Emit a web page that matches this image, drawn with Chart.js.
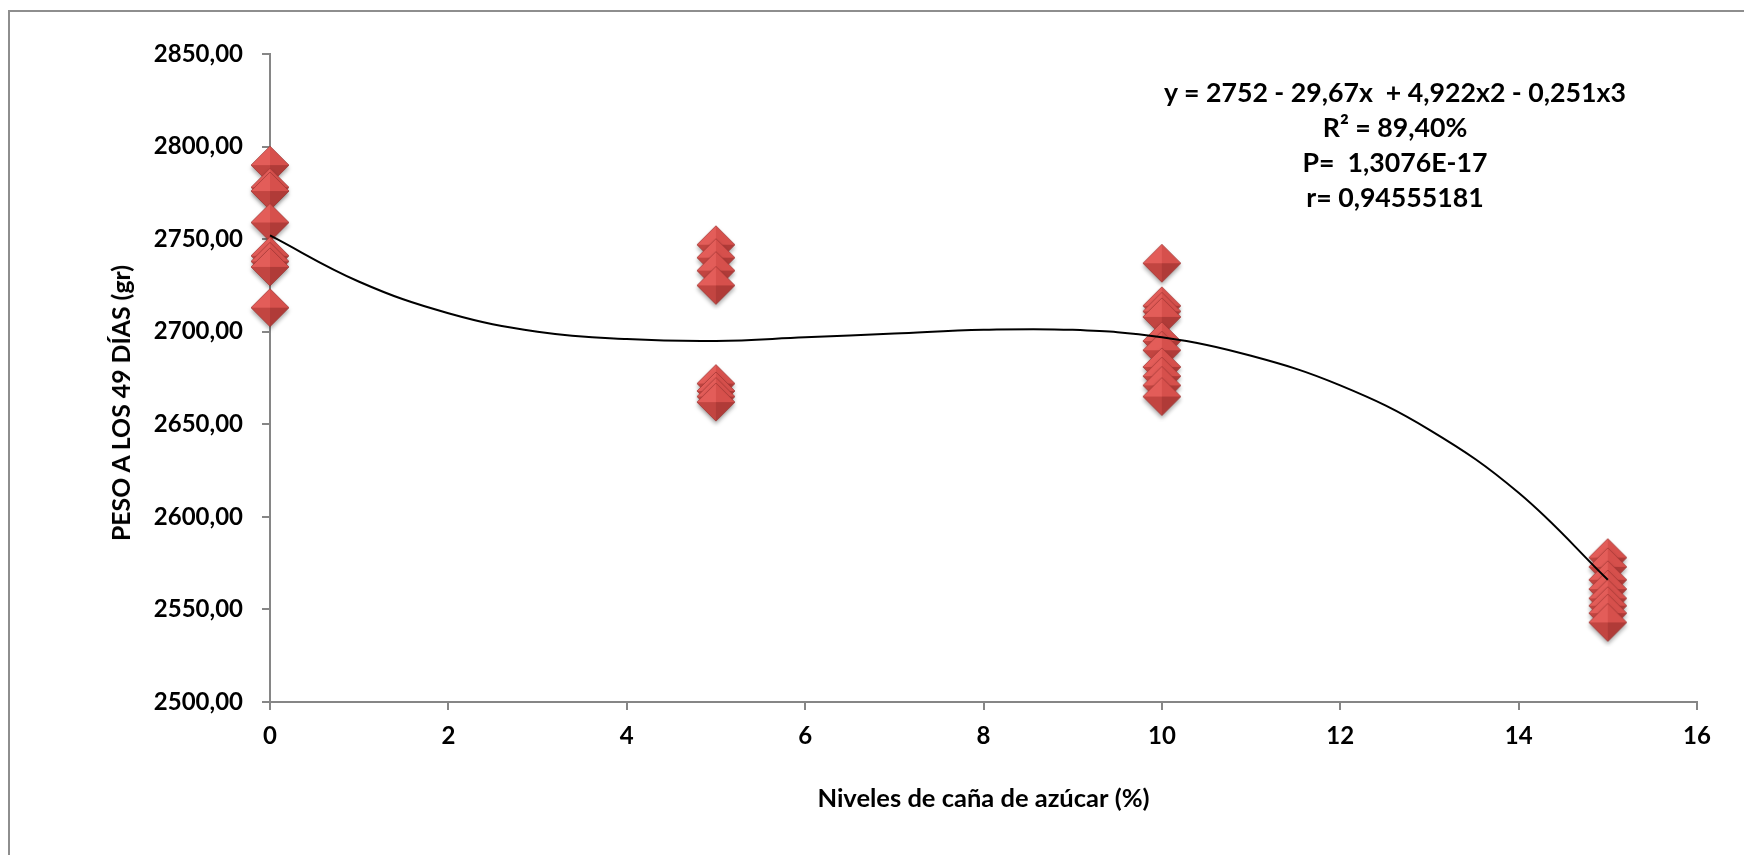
<!DOCTYPE html>
<html>
<head>
<meta charset="utf-8">
<title>Peso a los 49 días</title>
<script src="https://cdn.jsdelivr.net/npm/chart.js@4.4.1/dist/chart.umd.min.js"></script>
<style>
  body { margin: 0; background: #fff; }
  #wrap { position: relative; width: 1744px; height: 855px; overflow: hidden; }
  #frame { position: absolute; left: 8px; top: 10px; width: 1760px; height: 870px;
    border-left: 2px solid #8e8e8e; border-top: 2px solid #8e8e8e; }
  #chart { position: absolute; left: 0; top: 0; }
  .txt { position: absolute; font-family: Lato, "Open Sans", sans-serif; font-weight: bold; color: #000; white-space: pre; }
  #ytitle { left: 121px; top: 403px; font-size: 24.8px; line-height: 30px; transform: translate(-50%, -50%) rotate(-90deg); }
  #eq { left: 1095px; top: 75px; width: 600px; text-align: center; font-size: 26.7px; line-height: 35px; }
</style>
</head>
<body>
<div id="wrap">
  <div id="frame"></div>
  <canvas id="chart" width="1744" height="855"></canvas>
  <div id="ytitle" class="txt">PESO A LOS 49 DÍAS (gr)</div>
  <div id="eq" class="txt">y = 2752 - 29,67x  + 4,922x2 - 0,251x3
R² = 89,40%
P=  1,3076E-17
r= 0,94555181</div>
</div>
<script>
// niveles de caña (%) y pesos
var levels = [0, 5, 10, 15];
var peso0 = [2790, 2778, 2776, 2759, 2741, 2738, 2735, 2713];
var peso5 = [2747, 2740, 2733, 2725, 2672, 2668, 2665, 2662];
var peso10 = [2737, 2714, 2711, 2708, 2695, 2690, 2681, 2676, 2671, 2665];
var peso15 = [2578, 2573, 2566, 2561, 2556, 2552, 2548, 2543];

// curva de tendencia (polinomica)
var trendX = [0, 1, 2, 3, 4, 5, 6, 7, 8, 9, 10, 11, 12, 13, 14, 15];
var trendY = [2752, 2727, 2710, 2700, 2696, 2695, 2697, 2699, 2701, 2701, 2697, 2687, 2671, 2647, 2613, 2566];

var xTicks = [0, 2, 4, 6, 8, 10, 12, 14, 16];
var yTicks = [2500, 2550, 2600, 2650, 2700, 2750, 2800, 2850];

var xTitle = "Niveles de caña de azúcar (%)";

var groups = [peso0, peso5, peso10, peso15];
var points = [];
groups.forEach(function (g, i) {
	g.forEach(function (v) {
		points.push({x: levels[i], y: v});
	});
});

var trend = trendX.map(function (x, i) {
	return {x: x, y: trendY[i]};
});

// rombo rojo con relieve, como el marcador de Excel
function makeDiamond() {
	var c = document.createElement("canvas");
	c.width = 50;
	c.height = 50;
	var g = c.getContext("2d"),
		cx = 25, cy = 25, r = 19;
	g.save();
	g.shadowColor = "rgba(0,0,0,0.35)";
	g.shadowBlur = 4;
	g.shadowOffsetY = 3;
	g.beginPath();
	g.moveTo(cx, cy - r);
	g.lineTo(cx + r, cy);
	g.lineTo(cx, cy + r);
	g.lineTo(cx - r, cy);
	g.closePath();
	g.fillStyle = "#c0504d";
	g.fill();
	g.restore();
	var facets = [
		[cx - r, cy, cx, cy - r, "#e35d59"],
		[cx, cy - r, cx + r, cy, "#d6504c"],
		[cx + r, cy, cx, cy + r, "#b03b38"],
		[cx, cy + r, cx - r, cy, "#c24541"]
	];
	facets.forEach(function (f) {
		g.beginPath();
		g.moveTo(cx, cy);
		g.lineTo(f[0], f[1]);
		g.lineTo(f[2], f[3]);
		g.closePath();
		g.fillStyle = f[4];
		g.fill();
	});
	g.beginPath();
	g.moveTo(cx, cy - r);
	g.lineTo(cx + r, cy);
	g.lineTo(cx, cy + r);
	g.lineTo(cx - r, cy);
	g.closePath();
	g.strokeStyle = "rgba(140,40,38,0.6)";
	g.lineWidth = 0.8;
	g.stroke();
	return c;
}

var tickFont = {family: "Lato", weight: "bold", size: 24};
var titleFont = {family: "Lato", weight: "bold", size: 25.5};
var axisGray = "#868686";

new Chart(document.getElementById("chart"), {
	type: "scatter",
	data: {
		datasets: [
			{
				data: trend,
				showLine: true,
				borderColor: "#000",
				borderWidth: 2,
				tension: 0.4,
				pointRadius: 0,
				clip: false,
				order: 0
			},
			{
				data: points,
				pointStyle: makeDiamond(),
				pointRadius: 19,
				clip: false,
				order: 1
			}
		]
	},
	options: {
		responsive: false,
		animation: false,
		layout: {padding: {left: 0, top: 54, right: 47, bottom: 41}},
		plugins: {legend: {display: false}, tooltip: {enabled: false}},
		scales: {
			x: {
				type: "linear",
				min: xTicks[0],
				max: xTicks[xTicks.length - 1],
				afterBuildTicks: function (s) {
					s.ticks = xTicks.map(function (v) { return {value: v}; });
				},
				afterFit: function (s) { s.height = 112; },
				grid: {drawOnChartArea: false, tickLength: 8, color: axisGray, lineWidth: 2},
				border: {color: axisGray, width: 2},
				ticks: {font: tickFont, color: "#000", padding: 12, maxRotation: 0},
				title: {display: true, text: xTitle, font: titleFont, color: "#000", padding: 0}
			},
			y: {
				type: "linear",
				min: yTicks[0],
				max: yTicks[yTicks.length - 1],
				afterBuildTicks: function (s) {
					s.ticks = yTicks.map(function (v) { return {value: v}; });
				},
				afterFit: function (s) { s.width = 270; },
				grid: {drawOnChartArea: false, tickLength: 8, color: axisGray, lineWidth: 2},
				border: {color: axisGray, width: 2},
				ticks: {
					font: tickFont,
					color: "#000",
					padding: 19,
					callback: function (v) { return v.toFixed(2).replace(".", ","); }
				}
			}
		}
	}
});
</script>
</body>
</html>
